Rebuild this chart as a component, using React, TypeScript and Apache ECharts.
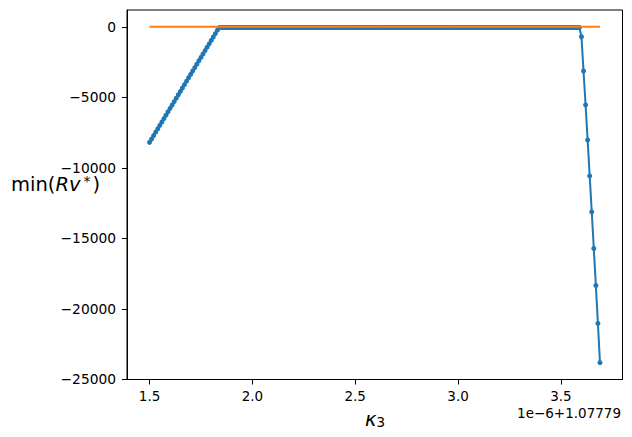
import React, { useEffect, useRef } from "react";
import * as echarts from "echarts";

// κ3 offsets (units of 1e-6, added to 1.07779) and min(Rv*) values
const rampX = [
  1.5, 1.51, 1.52, 1.53, 1.54, 1.55, 1.56, 1.57, 1.58, 1.59,
  1.6, 1.61, 1.62, 1.63, 1.64, 1.65, 1.66, 1.67, 1.68, 1.69,
  1.7, 1.71, 1.72, 1.73, 1.74, 1.75, 1.76, 1.77, 1.78, 1.79,
  1.8, 1.81, 1.82, 1.83,
];
const rampY = [
  -8194, -7953, -7712, -7471, -7230, -6989, -6748, -6507, -6266, -6025,
  -5784, -5543, -5302, -5061, -4820, -4579, -4338, -4097, -3856, -3615,
  -3374, -3133, -2892, -2651, -2410, -2169, -1928, -1687, -1446, -1205,
  -964, -723, -482, -241,
];
const flatX = [
  1.84, 1.85, 1.86, 1.87, 1.88, 1.89,
  1.9, 1.91, 1.92, 1.93, 1.94, 1.95, 1.96, 1.97, 1.98, 1.99,
  2.0, 2.01, 2.02, 2.03, 2.04, 2.05, 2.06, 2.07, 2.08, 2.09,
  2.1, 2.11, 2.12, 2.13, 2.14, 2.15, 2.16, 2.17, 2.18, 2.19,
  2.2, 2.21, 2.22, 2.23, 2.24, 2.25, 2.26, 2.27, 2.28, 2.29,
  2.3, 2.31, 2.32, 2.33, 2.34, 2.35, 2.36, 2.37, 2.38, 2.39,
  2.4, 2.41, 2.42, 2.43, 2.44, 2.45, 2.46, 2.47, 2.48, 2.49,
  2.5, 2.51, 2.52, 2.53, 2.54, 2.55, 2.56, 2.57, 2.58, 2.59,
  2.6, 2.61, 2.62, 2.63, 2.64, 2.65, 2.66, 2.67, 2.68, 2.69,
  2.7, 2.71, 2.72, 2.73, 2.74, 2.75, 2.76, 2.77, 2.78, 2.79,
  2.8, 2.81, 2.82, 2.83, 2.84, 2.85, 2.86, 2.87, 2.88, 2.89,
  2.9, 2.91, 2.92, 2.93, 2.94, 2.95, 2.96, 2.97, 2.98, 2.99,
  3.0, 3.01, 3.02, 3.03, 3.04, 3.05, 3.06, 3.07, 3.08, 3.09,
  3.1, 3.11, 3.12, 3.13, 3.14, 3.15, 3.16, 3.17, 3.18, 3.19,
  3.2, 3.21, 3.22, 3.23, 3.24, 3.25, 3.26, 3.27, 3.28, 3.29,
  3.3, 3.31, 3.32, 3.33, 3.34, 3.35, 3.36, 3.37, 3.38, 3.39,
  3.4, 3.41, 3.42, 3.43, 3.44, 3.45, 3.46, 3.47, 3.48, 3.49,
  3.5, 3.51, 3.52, 3.53, 3.54, 3.55, 3.56, 3.57, 3.58, 3.59,
];
const flatY = [
  -50, -50, -50, -50, -50, -50,
  -50, -50, -50, -50, -50, -50, -50, -50, -50, -50,
  -50, -50, -50, -50, -50, -50, -50, -50, -50, -50,
  -50, -50, -50, -50, -50, -50, -50, -50, -50, -50,
  -50, -50, -50, -50, -50, -50, -50, -50, -50, -50,
  -50, -50, -50, -50, -50, -50, -50, -50, -50, -50,
  -50, -50, -50, -50, -50, -50, -50, -50, -50, -50,
  -50, -50, -50, -50, -50, -50, -50, -50, -50, -50,
  -50, -50, -50, -50, -50, -50, -50, -50, -50, -50,
  -50, -50, -50, -50, -50, -50, -50, -50, -50, -50,
  -50, -50, -50, -50, -50, -50, -50, -50, -50, -50,
  -50, -50, -50, -50, -50, -50, -50, -50, -50, -50,
  -50, -50, -50, -50, -50, -50, -50, -50, -50, -50,
  -50, -50, -50, -50, -50, -50, -50, -50, -50, -50,
  -50, -50, -50, -50, -50, -50, -50, -50, -50, -50,
  -50, -50, -50, -50, -50, -50, -50, -50, -50, -50,
  -50, -50, -50, -50, -50, -50, -50, -50, -50, -50,
  -50, -50, -50, -50, -50, -50, -50, -50, -50, -50,
];
const dropX = [3.6, 3.61, 3.62, 3.63, 3.64, 3.65, 3.66, 3.67, 3.68, 3.69];
const dropY = [-708, -3137, -5538, -8024, -10574, -13124, -15722, -18343, -21034, -23817];

const refX = [1.5, 3.69];
const refY = [0, 0];

const xTicks = [1.5, 2.0, 2.5, 3.0, 3.5];
const yTicks = [-25000, -20000, -15000, -10000, -5000, 0];
const offsetText = "1e\u22126+1.07779";

const FONT = "DejaVu Sans";

function zip(xs: number[], ys: number[]) {
  return xs.map((x, i) => [x, ys[i]]);
}

export default function App() {
  const ref = useRef<HTMLDivElement>(null);
  useEffect(() => {
    if (!ref.current) return;
    const chart = echarts.init(ref.current, undefined, { renderer: "svg" });
    const blue = [...zip(rampX, rampY), ...zip(flatX, flatY), ...zip(dropX, dropY)];
    const xMin = 1.5 - 0.05 * 2.19;
    const xMax = 3.69 + 0.05 * 2.19;
    const yRange = 23817;
    const yMin = -23817 - 0.05 * yRange;
    const yMax = 0 + 0.05 * yRange;
    chart.setOption({
      animation: false,
      backgroundColor: "#ffffff",
      grid: {
        left: 127,
        top: 10,
        width: 495.5,
        height: 369.5,
        show: true,
        borderColor: "#000",
        borderWidth: 1,
        backgroundColor: "transparent",
        containLabel: false,
      },
      xAxis: {
        type: "value",
        min: xMin,
        max: xMax,
        axisLine: { show: true, onZero: false, lineStyle: { color: "#000", width: 1 } },
        axisTick: {
          show: true,
          length: 5,
          inside: false,
          customValues: xTicks,
          lineStyle: { color: "#000", width: 1 },
        },
        axisLabel: {
          customValues: xTicks,
          color: "#000",
          fontFamily: FONT,
          fontSize: 13.5,
          margin: 9,
          formatter: (v: number) => v.toFixed(1),
        },
        splitLine: { show: false },
      },
      yAxis: {
        type: "value",
        min: yMin,
        max: yMax,
        axisLine: { show: true, onZero: false, lineStyle: { color: "#000", width: 1 } },
        axisTick: {
          show: true,
          length: 5,
          inside: false,
          customValues: yTicks,
          lineStyle: { color: "#000", width: 1 },
        },
        axisLabel: {
          customValues: yTicks,
          color: "#000",
          fontFamily: FONT,
          fontSize: 13.8,
          margin: 11,
          formatter: (v: number) => (v < 0 ? "\u2212" + Math.abs(v) : String(v)),
        },
        splitLine: { show: false },
      },
      series: [
        {
          type: "line",
          data: blue,
          symbol: "circle",
          symbolSize: 5,
          showSymbol: true,
          showAllSymbol: true,
          color: "#1f77b4",
          itemStyle: { color: "#1f77b4" },
          lineStyle: { color: "#1f77b4", width: 2 },
          z: 2,
        },
        {
          type: "line",
          data: zip(refX, refY),
          symbol: "none",
          showSymbol: false,
          color: "#ff7f0e",
          lineStyle: { color: "#ff7f0e", width: 2 },
          z: 3,
        },
      ],
      graphic: [
        {
          type: "text",
          x: 11,
          y: 184,
          style: {
            text: "{a|min(}{b|Rv}{c|*}{a|)}",
            verticalAlign: "middle",
            align: "left",
            fill: "#000",
            rich: {
              a: { fontFamily: FONT, fontSize: 19.5, fill: "#000" },
              b: { fontFamily: FONT, fontSize: 19.5, fontStyle: "italic", fill: "#000" },
              c: {
                fontFamily: FONT,
                fontSize: 14,
                verticalAlign: "top",
                padding: [0, 2, 0, 3],
                fill: "#000",
              },
            },
          },
        },
        {
          type: "text",
          x: 375,
          y: 419,
          style: {
            text: "{k|\u03ba}{s|3}",
            align: "center",
            verticalAlign: "middle",
            fill: "#000",
            rich: {
              k: { fontFamily: FONT, fontSize: 19.5, fontStyle: "italic", fill: "#000" },
              s: { fontFamily: FONT, fontSize: 13.5, verticalAlign: "bottom", fill: "#000" },
            },
          },
        },
        {
          type: "text",
          x: 621,
          y: 413,
          style: {
            text: offsetText,
            align: "right",
            verticalAlign: "middle",
            fontFamily: FONT,
            fontSize: 13.5,
            fill: "#000",
          },
        },
      ],
    });
    return () => chart.dispose();
  }, []);
  return (
    <div
      ref={ref}
      style={{ position: "absolute", left: 0, top: 0, width: 632, height: 437 }}
    />
  );
}
